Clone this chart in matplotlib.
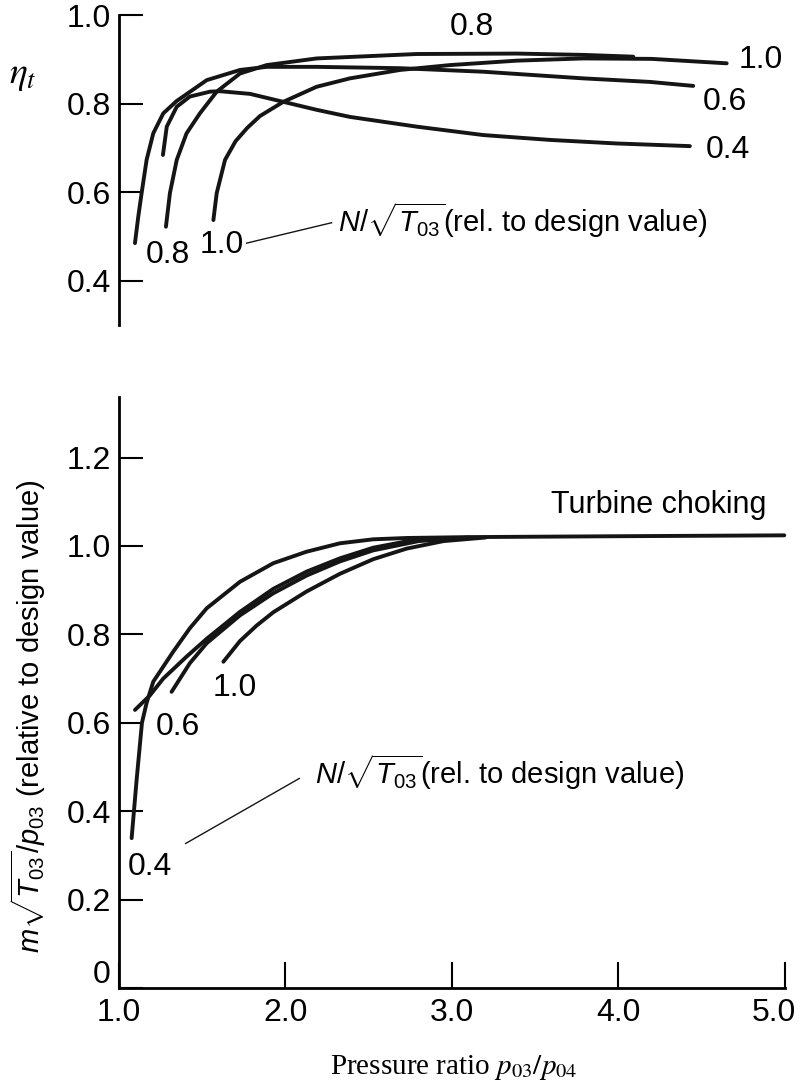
import numpy as np
import matplotlib
matplotlib.use("Agg")
import matplotlib.pyplot as plt
from matplotlib.transforms import ScaledTranslation

plt.rcParams['font.family'] = ['Liberation Sans', 'DejaVu Sans']
plt.rcParams['mathtext.fontset'] = 'custom'
plt.rcParams['mathtext.rm'] = 'Liberation Sans'
plt.rcParams['mathtext.it'] = 'Liberation Sans:italic'
plt.rcParams['mathtext.sf'] = 'Liberation Sans'

# --- КПД (верх), по N/sqrt(T03)
pr_eff_04 = [1.264, 1.287, 1.347, 1.426, 1.547, 1.607, 1.787, 1.987, 2.187, 2.387, 2.788, 3.188, 3.589, 3.989, 4.429]
eff_04 = [0.684, 0.748, 0.793, 0.816, 0.827, 0.828, 0.822, 0.804, 0.786, 0.770, 0.748, 0.729, 0.718, 0.710, 0.704]

pr_eff_06 = [1.096, 1.116, 1.136, 1.166, 1.206, 1.266, 1.347, 1.527, 1.727, 1.887, 2.187, 2.688, 3.188, 3.789, 4.189, 4.449]
eff_06 = [0.485, 0.545, 0.598, 0.673, 0.733, 0.778, 0.806, 0.853, 0.876, 0.883, 0.883, 0.880, 0.872, 0.857, 0.849, 0.840]

pr_eff_08 = [1.282, 1.306, 1.347, 1.406, 1.486, 1.587, 1.727, 1.887, 2.187, 2.788, 3.389, 3.789, 4.089]
eff_08 = [0.522, 0.598, 0.673, 0.733, 0.778, 0.827, 0.868, 0.887, 0.902, 0.912, 0.913, 0.910, 0.906]

pr_eff_10 = [1.567, 1.587, 1.637, 1.70, 1.77, 1.847, 1.987, 2.187, 2.387, 2.688, 2.988, 3.389, 3.789, 4.2, 4.65]
eff_10 = [0.537, 0.598, 0.673, 0.715, 0.745, 0.772, 0.804, 0.838, 0.857, 0.876, 0.887, 0.897, 0.902, 0.901, 0.891]

# --- расход (низ)
pr_flow_04 = [1.076, 1.106, 1.138, 1.166, 1.206, 1.326, 1.426, 1.527, 1.727, 1.927, 2.127, 2.327, 2.527, 2.728, 3.1, 4.0, 4.996]
flow_04 = [0.339, 0.471, 0.600, 0.645, 0.693, 0.761, 0.814, 0.859, 0.919, 0.961, 0.987, 1.006, 1.015, 1.018, 1.020, 1.022, 1.024]

pr_flow_06 = [1.096, 1.186, 1.266, 1.407, 1.527, 1.727, 1.927, 2.127, 2.327, 2.527, 2.75, 3.0]
flow_06 = [0.629, 0.662, 0.700, 0.750, 0.790, 0.851, 0.903, 0.942, 0.972, 0.996, 1.012, 1.018]

pr_flow_08 = [1.316, 1.426, 1.527, 1.727, 1.927, 2.127, 2.327, 2.527, 2.8, 3.1]
flow_08 = [0.670, 0.735, 0.780, 0.843, 0.893, 0.933, 0.965, 0.990, 1.011, 1.019]

pr_flow_10 = [1.627, 1.727, 1.827, 1.927, 2.127, 2.327, 2.527, 2.728, 2.95, 3.2]
flow_10 = [0.738, 0.785, 0.820, 0.850, 0.897, 0.937, 0.970, 0.994, 1.011, 1.019]

y_ticks_top = [0.4, 0.6, 0.8, 1.0]
y_ticks_bot = [0, 0.2, 0.4, 0.6, 0.8, 1.0, 1.2]
y_ticklabels_bot = ["0", "0.2", "0.4", "0.6", "0.8", "1.0", "1.2"]
x_ticks = [1.0, 2.0, 3.0, 4.0, 5.0]
speed_text = r'$N/\sqrt{T_{03}}$(rel. to design value)'

line_kw = dict(color='#151515', linewidth=2.8, solid_capstyle='round', solid_joinstyle='round', clip_on=False)
lbl = 23

fig = plt.figure(figsize=(8.05, 10.9), dpi=100)
ax1 = fig.add_axes([0.1478, 0.7018, 0.8273, 0.2844])
ax2 = fig.add_axes([0.1478, 0.0936, 0.8273, 0.5422])

# Верхний график: КПД турбины
for xs, ys in [(pr_eff_04, eff_04), (pr_eff_06, eff_06), (pr_eff_08, eff_08), (pr_eff_10, eff_10)]:
    ax1.plot(xs, ys, **line_kw)
ax1.set_xlim(1.0, 5.0)
ax1.set_ylim(0.30, 1.0)
for s in ['top', 'right', 'bottom']:
    ax1.spines[s].set_visible(False)
ax1.spines['left'].set_linewidth(2)
ax1.set_xticks([])
ax1.set_yticks(y_ticks_top)
ax1.set_yticklabels([f"{v:.1f}" for v in y_ticks_top])
ax1.tick_params(axis='y', direction='in', length=17, width=1.5, labelsize=lbl, pad=6)

ax1.text(3.12, 0.974, "0.8", fontsize=lbl, ha='center', va='center')
ax1.text(4.856, 0.898, "1.0", fontsize=lbl, ha='center', va='center')
ax1.text(4.64, 0.804, "0.6", fontsize=lbl, ha='center', va='center')
ax1.text(4.655, 0.695, "0.4", fontsize=lbl, ha='center', va='center')
ax1.text(1.292, 0.458, "0.8", fontsize=lbl, ha='center', va='center')
ax1.text(1.617, 0.481, "1.0", fontsize=lbl, ha='center', va='center')
ax1.plot([1.767, 2.277], [0.485, 0.531], color='#151515', linewidth=1.0)
ax1.text(2.315, 0.537, speed_text, fontsize=21, ha='left', va='center')

fig.text(0.0286, 0.931, r'$\eta_t$', fontsize=27, math_fontfamily='stix', ha='center', va='center')

# Нижний график: приведённый расход
for xs, ys in [(pr_flow_04, flow_04), (pr_flow_06, flow_06), (pr_flow_08, flow_08), (pr_flow_10, flow_10)]:
    ax2.plot(xs, ys, **line_kw)
ax2.set_xlim(1.0, 5.0)
ax2.set_ylim(0, 1.337)
for s in ['top', 'right']:
    ax2.spines[s].set_visible(False)
ax2.spines['left'].set_linewidth(2)
ax2.spines['bottom'].set_linewidth(2)
ax2.set_yticks(y_ticks_bot)
ax2.set_yticklabels(y_ticklabels_bot)
ax2.set_xticks(x_ticks)
ax2.set_xticklabels([f"{v:.1f}" for v in x_ticks])
ax2.tick_params(axis='y', direction='in', length=17, width=1.5, labelsize=lbl, pad=6)
ax2.tick_params(axis='x', direction='in', length=19, width=1.5, labelsize=lbl, pad=7)
# метку "0" чуть выше оси, а "5.0" сдвигаем внутрь рисунка
zero_lbl = ax2.get_yticklabels()[0]
zero_lbl.set_transform(zero_lbl.get_transform() + ScaledTranslation(0, 0.16, fig.dpi_scale_trans))
last_lbl = ax2.get_xticklabels()[-1]
last_lbl.set_transform(last_lbl.get_transform() + ScaledTranslation(-0.11, 0, fig.dpi_scale_trans))

ax2.text(4.24, 1.093, "Turbine choking", fontsize=22, ha='center', va='center')
ax2.text(1.184, 0.274, "0.4", fontsize=lbl, ha='center', va='center')
ax2.text(1.354, 0.591, "0.6", fontsize=lbl, ha='center', va='center')
ax2.text(1.697, 0.678, "1.0", fontsize=lbl, ha='center', va='center')
ax2.plot([1.401, 2.083], [0.327, 0.474], color='#151515', linewidth=1.0)
ax2.text(2.176, 0.489, speed_text, fontsize=21, ha='left', va='center')

fig.text(0.0348, 0.343, r'$m\sqrt{T_{03}}/p_{03}$ (relative to design value)', fontsize=21,
         rotation=90, ha='center', va='center')
fig.text(0.564, 0.0202, r'Pressure ratio $p_{03}/p_{04}$', fontsize=21, family='Liberation Serif',
         math_fontfamily='stix', ha='center', va='center')

fig.savefig('out.png', dpi=100)
plt.close(fig)
